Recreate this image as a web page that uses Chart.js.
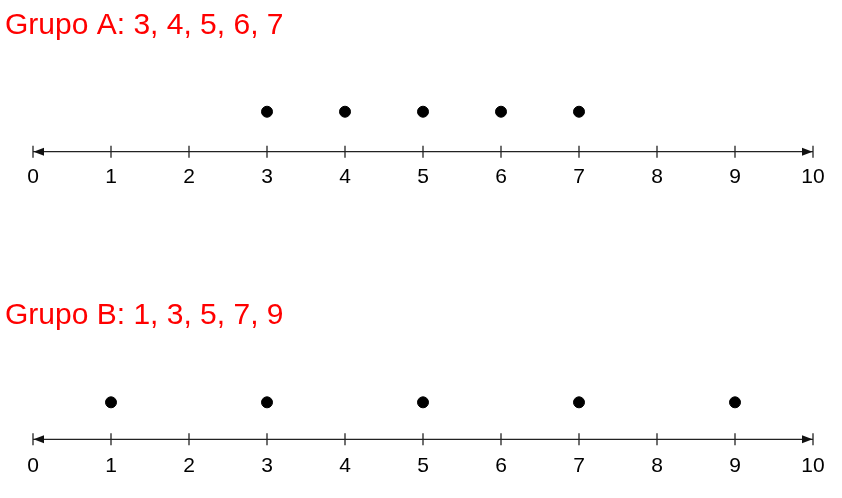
<!DOCTYPE html>
<html>
<head>
<meta charset="utf-8">
<script src="https://cdn.jsdelivr.net/npm/chart.js@4"></script>
<style>
  html, body { margin: 0; padding: 0; background: #fff; }
  #wrap { width: 842px; height: 498px; position: relative; }
</style>
</head>
<body>
<div id="wrap"><canvas id="c"></canvas></div>
<script>
// ---- data ----
const tickValues = [0, 1, 2, 3, 4, 5, 6, 7, 8, 9, 10];
const tickLabels = ['0', '1', '2', '3', '4', '5', '6', '7', '8', '9', '10'];
const groupNames = ['Grupo A', 'Grupo B'];
const groupAValues = [3, 4, 5, 6, 7];
const groupBValues = [1, 3, 5, 7, 9];
const groupRows = [1, 0]; // row index on the hidden y scale

const FONT = '"Liberation Sans", Arial, Helvetica, sans-serif';

const numberLinePlugin = {
  id: 'numberLine',
  beforeDatasetsDraw(chart) {
    const ctx = chart.ctx;
    const xs = chart.scales.x, ys = chart.scales.y;
    const x0 = xs.getPixelForValue(tickValues[0]);
    const x1 = xs.getPixelForValue(tickValues[tickValues.length - 1]);
    const lineOffsets = [40, 37];
    const labelOffsets = [25, 27];
    const titleOffsets = [-78, -78];
    const values = [groupAValues, groupBValues];
    groupRows.forEach((row, i) => {
      const yDot = ys.getPixelForValue(row);
      const yl = yDot + lineOffsets[i];
      ctx.save();
      // title
      ctx.fillStyle = '#ff0000';
      ctx.font = '30px ' + FONT;
      ctx.textAlign = 'left';
      ctx.textBaseline = 'alphabetic';
      ctx.fillText(groupNames[i] + ': ' + values[i].join(', '), 5, yDot + titleOffsets[i]);
      // main line
      ctx.strokeStyle = '#222';
      ctx.fillStyle = '#111';
      ctx.lineWidth = 1.3;
      ctx.beginPath();
      ctx.moveTo(x0, yl);
      ctx.lineTo(x1, yl);
      ctx.stroke();
      // arrowheads
      ctx.beginPath();
      ctx.moveTo(x0 + 0.5, yl);
      ctx.lineTo(x0 + 11, yl - 4);
      ctx.lineTo(x0 + 11, yl + 4);
      ctx.closePath();
      ctx.fill();
      ctx.beginPath();
      ctx.moveTo(x1 - 0.5, yl);
      ctx.lineTo(x1 - 11, yl - 4);
      ctx.lineTo(x1 - 11, yl + 4);
      ctx.closePath();
      ctx.fill();
      // ticks and labels
      ctx.font = '21px ' + FONT;
      ctx.textAlign = 'center';
      ctx.textBaseline = 'middle';
      tickValues.forEach((v, k) => {
        const px = xs.getPixelForValue(v);
        ctx.beginPath();
        ctx.moveTo(px, yl - 6);
        ctx.lineTo(px, yl + 6);
        ctx.stroke();
        ctx.fillStyle = '#000';
        ctx.fillText(tickLabels[k], px, yl + labelOffsets[i]);
      });
      ctx.restore();
    });
  }
};

new Chart(document.getElementById('c'), {
  type: 'scatter',
  data: {
    datasets: [
      {
        label: groupNames[0],
        data: groupAValues.map(v => ({ x: v, y: groupRows[0] })),
        backgroundColor: '#000', borderColor: '#000',
        pointRadius: 5.5, pointHoverRadius: 5.5
      },
      {
        label: groupNames[1],
        data: groupBValues.map(v => ({ x: v, y: groupRows[1] })),
        backgroundColor: '#000', borderColor: '#000',
        pointRadius: 5.5, pointHoverRadius: 5.5
      }
    ]
  },
  options: {
    responsive: true,
    maintainAspectRatio: false,
    animation: false,
    layout: { padding: { left: 33, right: 29, top: 0, bottom: 0 } },
    plugins: { legend: { display: false }, tooltip: { enabled: false }, title: { display: false } },
    scales: {
      x: { type: 'linear', min: 0, max: 10, display: false },
      y: { type: 'linear', min: -0.3069, max: 1.3621, display: false }
    }
  },
  plugins: [numberLinePlugin]
});
</script>
</body>
</html>
